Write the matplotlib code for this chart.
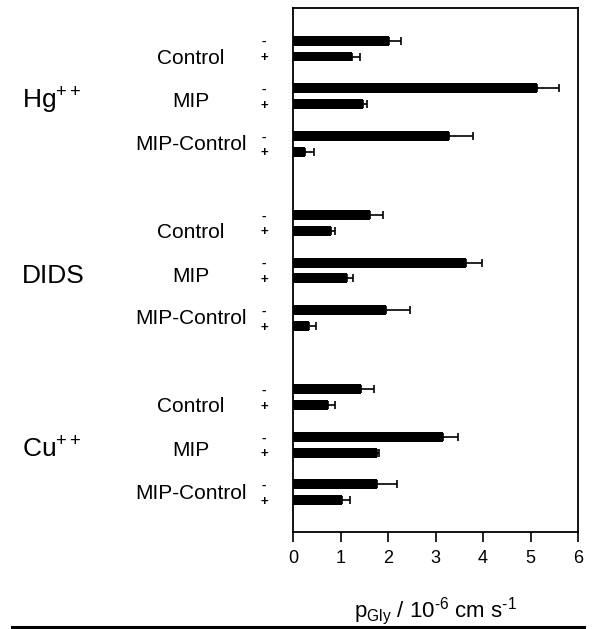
import matplotlib
matplotlib.use("Agg")
import matplotlib.pyplot as plt
import numpy as np
from matplotlib.transforms import blended_transform_factory
from matplotlib.lines import Line2D

plt.rcParams['font.family'] = ['Liberation Sans', 'DejaVu Sans']
plt.rcParams['mathtext.fontset'] = 'custom'
plt.rcParams['mathtext.rm'] = 'Liberation Sans'
plt.rcParams['mathtext.it'] = 'Liberation Sans'
plt.rcParams['mathtext.bf'] = 'Liberation Sans:bold'

groups = ['Hg$^{++}$', 'DIDS', 'Cu$^{++}$']
categories = ['Control', 'MIP', 'MIP-Control']
treatments = ['-', '+']

minus_vals = [2.03, 5.13, 3.28, 1.63, 3.64, 1.96, 1.43, 3.15, 1.76]
minus_err = [0.24, 0.48, 0.51, 0.26, 0.34, 0.51, 0.27, 0.32, 0.43]
plus_vals = [1.24, 1.47, 0.26, 0.81, 1.14, 0.34, 0.74, 1.76, 1.04]
plus_err = [0.16, 0.09, 0.19, 0.08, 0.12, 0.14, 0.14, 0.06, 0.15]

xticks = [0, 1, 2, 3, 4, 5, 6]
xlabel = 'p$_{\\mathrm{Gly}}$ / 10$^{\u20106}$ cm s$^{\u20101}$'

fig = plt.figure(figsize=(5.95, 6.29), dpi=100)
ax = fig.add_axes([293/595, 1-532/629, (578-293)/595, (532-8)/629])

group_step = 11
cat_step = 3
pos_minus = []
pos_plus = []
for g in range(len(groups)):
    for c in range(len(categories)):
        base = g*group_step + c*cat_step
        pos_minus.append(base)
        pos_plus.append(base + 1)
pos_minus = np.array(pos_minus, float)
pos_plus = np.array(pos_plus, float)

bh = 0.63
for pos, vals, errs in [(pos_minus, minus_vals, minus_err), (pos_plus, plus_vals, plus_err)]:
    ax.barh(pos, vals, height=bh, color='black', edgecolor='black', linewidth=0)
    ax.errorbar(vals, pos, xerr=[np.zeros(len(errs)), errs], fmt='none',
                ecolor='black', elinewidth=1.2, capsize=3, capthick=1.2)

ax.set_xlim(0, 6)
ax.set_ylim(31, -2.06)
ax.set_xticks(xticks)
ax.set_xticklabels([str(t) for t in xticks], fontsize=13)
ax.set_yticks([])
ax.tick_params(axis='x', direction='out', length=7, width=1.2, pad=6)
for s in ax.spines.values():
    s.set_linewidth(1.3)
ax.set_xlabel(xlabel, fontsize=16, labelpad=20)

tr = blended_transform_factory(fig.transFigure, ax.transData)
cat_off = [1.45, 1.2, 0.9]
for g in range(len(groups)):
    for c in range(len(categories)):
        base = g*group_step + c*cat_step
        ax.text(191/595, base + cat_off[c], categories[c], transform=tr,
                ha='center', va='baseline', fontsize=15, clip_on=False)
        for t, sgn in enumerate(treatments):
            ax.text(264/595, base + t + 0.1, sgn, transform=tr, ha='center',
                    va='center', fontsize=9.5, fontweight='bold', clip_on=False)
    ax.text(22/595, g*group_step + cat_step + 1.3, groups[g], transform=tr,
            ha='left', va='baseline', fontsize=19, clip_on=False)

fig.add_artist(Line2D([12/595, 584/595], [2.5/629, 2.5/629], color='black',
                      linewidth=2.2, transform=fig.transFigure))

fig.savefig('out.png', dpi=100)
